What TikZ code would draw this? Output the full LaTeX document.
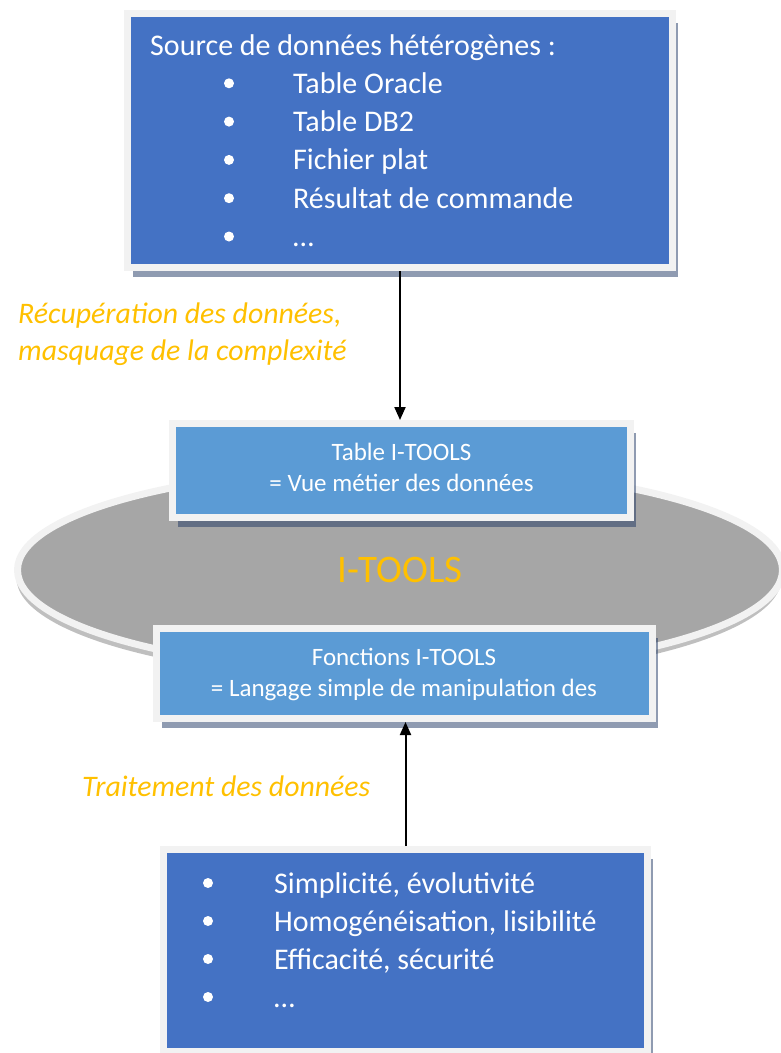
\documentclass[tikz,border=0pt]{standalone}
\usepackage{fontspec}
\setmainfont{Carlito}
\usepackage{tikz}
\usetikzlibrary{arrows.meta,calc,positioning,shapes.geometric,shadows}
\definecolor{dark}{RGB}{68,114,196}
\definecolor{light}{RGB}{91,155,213}
\definecolor{rim}{RGB}{242,242,242}
\definecolor{shade}{RGB}{31,56,100}
\definecolor{gold}{RGB}{255,192,0}
\definecolor{disc}{RGB}{166,166,166}

\begin{document}
\begin{tikzpicture}[x=1pt,y=-1pt,>={Triangle[length=13pt,width=11pt]},
  box/.style={rectangle,draw=rim,line width=7pt,inner sep=0pt,
    drop shadow={shadow xshift=5.5pt,shadow yshift=-9.5pt,fill=shade,opacity=.5}},
  big/.style={font=\fontsize{30}{38}\selectfont,text=white,anchor=base west,inner sep=0pt},
  small/.style={font=\fontsize{25}{31}\selectfont,text=white,anchor=base,inner sep=0pt},
  note/.style={font=\fontsize{29.8}{37}\selectfont\itshape,text=gold,anchor=base west,inner sep=0pt}]
  \useasboundingbox (0,0) rectangle (781,1053);
  % the I-TOOLS disc
  \node[ellipse,fill=disc,draw=rim,line width=7pt,minimum width=765pt,minimum height=205pt,inner sep=0pt,
    drop shadow={shadow xshift=-1pt,shadow yshift=-8pt,fill=black,opacity=.25},
    font=\fontsize{39}{47}\selectfont,text=gold] (core) at (400,570) {I-TOOLS};
  % sources
  \node[box,fill=dark,minimum width=545pt,minimum height=254pt] (src) at (400,140.5) {};
  \node[big] (srchead) at (150,55) {Source de données hétérogènes :};
  \foreach \lbl [count=\i] in {Table Oracle,Table DB2,Fichier plat,Résultat de commande,…} {
    \fill[white] (229,{55+38.3*\i-10}) circle (5pt);
    \node[big] (src\i) at (293,{55+38.3*\i}) {\lbl};
  }
  % table and functions
  \node[box,fill=light,minimum width=458pt,minimum height=94pt] (tbl) at (401.5,470.5) {};
  \node[small] (tblA) at (401.5,460) {Table I-TOOLS};
  \node[small] (tblB) at (401.5,491) {= Vue métier des données};
  \node[box,fill=light,minimum width=496pt,minimum height=90pt] (fun) at (404.5,673.5) {};
  \node[small] (funA) at (404,665) {Fonctions I-TOOLS};
  \node[small] (funB) at (404,696) {= Langage simple de manipulation des};
  % qualities
  \node[box,fill=dark,minimum width=484pt,minimum height=202pt] (qual) at (405.5,950.5) {};
  \foreach \lbl [count=\i] in {{Simplicité, évolutivité},{Homogénéisation, lisibilité},{Efficacité, sécurité},…} {
    \fill[white] (208,{855+38*\i-10}) circle (5pt);
    \node[big] (qual\i) at (274,{855+38*\i}) {\lbl};
  }
  % labels and arrows
  \node[note] (recupA) at (18,323) {Récupération des données,};
  \node[note] (recupB) at (18,360) {masquage de la complexité};
  \node[note] (trait) at (82,796) {Traitement des données};
  \draw[->,line width=2pt] (src.south) -- (src.south |- tbl.north);
  \draw[->,line width=2pt] (qual.north) -- (qual.north |- fun.south);
\end{tikzpicture}
\end{document}
